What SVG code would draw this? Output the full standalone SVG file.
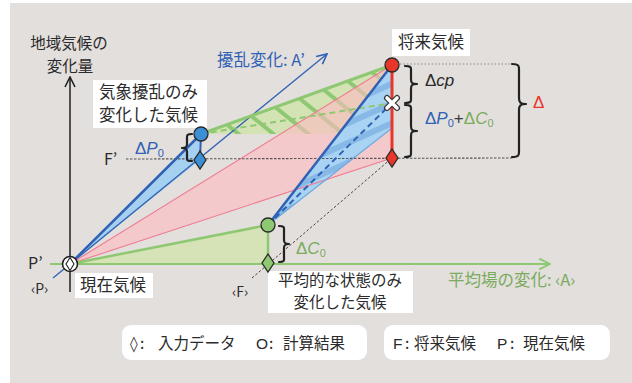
<svg xmlns="http://www.w3.org/2000/svg" width="632" height="383" viewBox="0 0 632 383">
<defs>
<style>
.jp{font-family:"Noto Sans CJK JP","Noto Sans",sans-serif;font-size:16px;fill:#2b2b2b}
.lg{font-family:"Noto Sans CJK JP","Noto Sans",sans-serif;font-size:15.5px;fill:#2b2b2b}
.m{font-family:"Liberation Sans","Noto Sans CJK JP",sans-serif;font-size:17px}
.brace{fill:none;stroke:#222;stroke-width:2.2;stroke-linecap:round;stroke-linejoin:round}
.mk{stroke:#2a2a2a;stroke-width:1.3}
.box{fill:#fff}
.blue{fill:#2f62b5}
.green{fill:#7aab5e}
</style>
<pattern id="gh" patternUnits="userSpaceOnUse" width="22" height="22" patternTransform="rotate(-51)">
<rect width="22" height="22" fill="#d4e3b4"/>
<rect width="4" height="22" fill="#8fc873"/>
</pattern>
<pattern id="bh" patternUnits="userSpaceOnUse" width="18" height="18" patternTransform="rotate(65.8)">
<rect width="18" height="18" fill="#a9d3f2"/>
<rect width="6" height="18" fill="#88b8e6"/>
</pattern>
<marker id="arK" viewBox="0 0 12 12" refX="11" refY="6" markerWidth="12" markerHeight="12" markerUnits="userSpaceOnUse" orient="auto">
<path d="M1,1 L11,6 L1,11" fill="none" stroke="#222" stroke-width="1.6"/>
</marker>
<marker id="arG" viewBox="0 0 12 12" refX="11" refY="6" markerWidth="13" markerHeight="13" markerUnits="userSpaceOnUse" orient="auto">
<path d="M1,1 L11,6 L1,11" fill="none" stroke="#8fc873" stroke-width="1.8"/>
</marker>
<marker id="arB" viewBox="0 0 12 12" refX="11" refY="6" markerWidth="12" markerHeight="12" markerUnits="userSpaceOnUse" orient="auto">
<path d="M1,1 L11,6 L1,11" fill="none" stroke="#2f62b5" stroke-width="1.6"/>
</marker>
</defs>

<rect width="632" height="383" fill="#fff"/>
<rect x="10" y="3" width="622" height="380" fill="#e3dfdc"/>

<g id="connectors">
<polygon points="70,264 268,225 268,264" fill="#d6e3b6"/>
<polygon points="70,264 201,134 200,160" fill="#a6d0f0"/>
<polygon points="201,134 392,65 392,134" fill="url(#gh)"/>
<polygon points="70,264 392,65 392,158" fill="#febbc2" fill-opacity="0.6"/>
<polygon points="268,225 392,65 392,128" fill="url(#bh)"/>
<line x1="70" y1="264" x2="392" y2="65" stroke="#ef7b93" stroke-width="1.1"/>
<line x1="70" y1="264" x2="392" y2="158" stroke="#ef7b93" stroke-width="1.1"/>
<line x1="126" y1="159" x2="513" y2="158" stroke="#555" stroke-width="1.1" stroke-dasharray="2.5 1.5"/>
<line x1="400" y1="64" x2="513" y2="64" stroke="#8a8a8a" stroke-width="1" stroke-dasharray="1.5 2"/>
<line x1="252" y1="278" x2="392" y2="158" stroke="#333" stroke-width="0.9" stroke-dasharray="2.5 2"/>
<line x1="70" y1="292" x2="70" y2="77" stroke="#222" stroke-width="1.5" marker-end="url(#arK)"/>
<line x1="50" y1="264" x2="550" y2="264" stroke="#8fc873" stroke-width="2" marker-end="url(#arG)"/>
<line x1="53" y1="278" x2="327" y2="54" stroke="#2f62b5" stroke-width="1.3" marker-end="url(#arB)"/>
<line x1="70" y1="264" x2="268" y2="225" stroke="#8fc873" stroke-width="2.5"/>
<line x1="268" y1="225" x2="268" y2="263" stroke="#8fc873" stroke-width="2.5"/>
<line x1="70" y1="264" x2="201" y2="134" stroke="#2f62b5" stroke-width="2.5"/>
<line x1="201" y1="134" x2="200" y2="160" stroke="#2f62b5" stroke-width="2"/>
<line x1="201" y1="134" x2="392" y2="65" stroke="#8fc873" stroke-width="3"/>
<line x1="201" y1="134" x2="392" y2="103" stroke="#8fc873" stroke-width="2" stroke-dasharray="6 4"/>
<line x1="268" y1="225" x2="392" y2="128" stroke="#6aa9e0" stroke-width="1.1"/>
<line x1="268" y1="225" x2="392" y2="65" stroke="#2f62b5" stroke-width="2.5"/>
<line x1="268" y1="225" x2="392" y2="103" stroke="#2f62b5" stroke-width="2" stroke-dasharray="6 4"/>
<line x1="392" y1="65" x2="392" y2="158" stroke="#e8362b" stroke-width="3"/>
<path class="brace" d="M405,66 C412,66 411,68 411,71 L411,79 C411,83 412,84 417,84 C412,84 411,85 411,89 L411,98 C411,101 412,103 405,103"/>
<path class="brace" d="M405,105 C412,105 411,107 411,110 L411,126 C411,130 412,131 417,131 C412,131 411,132 411,136 L411,152 C411,155 412,157 405,157"/>
<path class="brace" d="M512,64 C520,64 519,67 519,71 L519,98 C519,102 520,104 526,104 C520,104 519,106 519,110 L519,150 C519,154 520,157 512,157"/>
<path class="brace" d="M192,134 C186,134 187,136 187,139 L187,144 C187,147 186,148 182,148 C186,148 187,149 187,152 L187,157 C187,160 186,161 192,161"/>
<path class="brace" d="M279,226 C285,226 284,228 284,231 L284,240 C284,243 285,244 289,244 C285,244 284,245 284,248 L284,257 C284,260 285,262 279,262"/>
</g>

<g id="axis-labels">
<text class="jp" x="69" y="49" text-anchor="middle" style="font-size:15.5px">地域気候の</text>
<text class="jp" x="70" y="72" text-anchor="middle" style="font-size:15.5px">変化量</text>
<text class="jp" x="217" y="66" style="fill:#2f62b5;font-size:16.5px">擾乱変化: A’</text>
<text class="jp" x="448" y="286" style="fill:#7aab5e;font-size:16.5px">平均場の変化: ‹A›</text>
<text class="jp" x="28" y="269">P’</text>
<text class="jp" x="31" y="294" style="font-size:14px">‹P›</text>
<text class="jp" x="232" y="297" style="font-size:14px">‹F›</text>
<text class="jp" x="104" y="165">F’</text>
</g>

<g id="node-present">
<rect class="box" x="75" y="273" width="78" height="25"/>
<text class="jp" x="80" y="291" style="font-size:16.5px">現在気候</text>
<circle cx="70" cy="264" r="7.5" fill="#fff" stroke="#222" stroke-width="1.6"/>
<polygon points="70,257.5 74,264 70,270.5 66,264" fill="#fff" stroke="#222" stroke-width="1.1"/>
</g>

<g id="node-perturbation">
<rect class="box" x="93" y="80" width="114" height="48"/>
<text class="jp" x="99" y="98" style="font-size:16.5px">気象擾乱のみ</text>
<text class="jp" x="99" y="121" style="font-size:16.5px">変化した気候</text>
<polygon class="mk" points="200,151 206,160 200,169 194,160" fill="#3b8fd4"/>
<circle class="mk" cx="201" cy="134" r="7" fill="#3b8fd4"/>
<text class="m blue" x="135" y="154"><tspan>Δ</tspan><tspan font-style="italic">P</tspan><tspan font-size="11" dy="3">0</tspan></text>
</g>

<g id="node-mean">
<rect class="box" x="268" y="271" width="145" height="42"/>
<text class="jp" x="340" y="286" text-anchor="middle" style="font-size:15.5px">平均的な状態のみ</text>
<text class="jp" x="340" y="308" text-anchor="middle" style="font-size:15.5px">変化した気候</text>
<polygon class="mk" points="268,254 274,263 268,272 262,263" fill="#8fc873"/>
<circle class="mk" cx="268" cy="225" r="7" fill="#8fc873"/>
<text class="m green" x="296" y="254"><tspan>Δ</tspan><tspan font-style="italic">C</tspan><tspan font-size="11" dy="3">0</tspan></text>
</g>

<g id="node-future">
<rect class="box" x="392" y="29" width="78" height="27"/>
<text class="jp" x="398" y="48" style="font-size:16.5px">将来気候</text>
<polygon class="mk" points="392,149 398,158 392,167 386,158" fill="#e8362b"/>
<circle class="mk" cx="392" cy="65" r="7" fill="#e8362b"/>
<g stroke-linecap="round">
<path d="M387,98 L397,108 M397,98 L387,108" stroke="#333" stroke-width="6"/>
<path d="M387,98 L397,108 M397,98 L387,108" stroke="#fff" stroke-width="3.6"/>
</g>
<text class="m" x="425" y="86" fill="#2b2b2b"><tspan>Δ</tspan><tspan font-style="italic">cp</tspan></text>
<text class="m" x="425" y="124"><tspan fill="#2f62b5">Δ</tspan><tspan fill="#2f62b5" font-style="italic">P</tspan><tspan fill="#2f62b5" font-size="11" dy="3">0</tspan><tspan fill="#3a3a3a" dy="-3">+</tspan><tspan fill="#7aab5e">Δ</tspan><tspan fill="#7aab5e" font-style="italic">C</tspan><tspan fill="#7aab5e" font-size="11" dy="3">0</tspan></text>
<text class="m" x="533" y="108" fill="#e8362b">Δ</text>
</g>

<g id="legend">
<rect class="box" x="122" y="325" width="245" height="35" rx="9"/>
<text class="lg" y="349"><tspan x="130" font-family="DejaVu Sans">◊</tspan><tspan x="140">:</tspan><tspan x="158">入力データ</tspan><tspan x="256" font-family="Liberation Sans">O</tspan><tspan x="269">:</tspan><tspan x="283">計算結果</tspan></text>
<rect class="box" x="384" y="325" width="226" height="35" rx="9"/>
<text class="lg" y="349"><tspan x="393" font-family="Liberation Sans">F</tspan><tspan x="405">:</tspan><tspan x="414">将来気候</tspan><tspan x="497" font-family="Liberation Sans">P</tspan><tspan x="510">:</tspan><tspan x="523">現在気候</tspan></text>
</g>
</svg>
